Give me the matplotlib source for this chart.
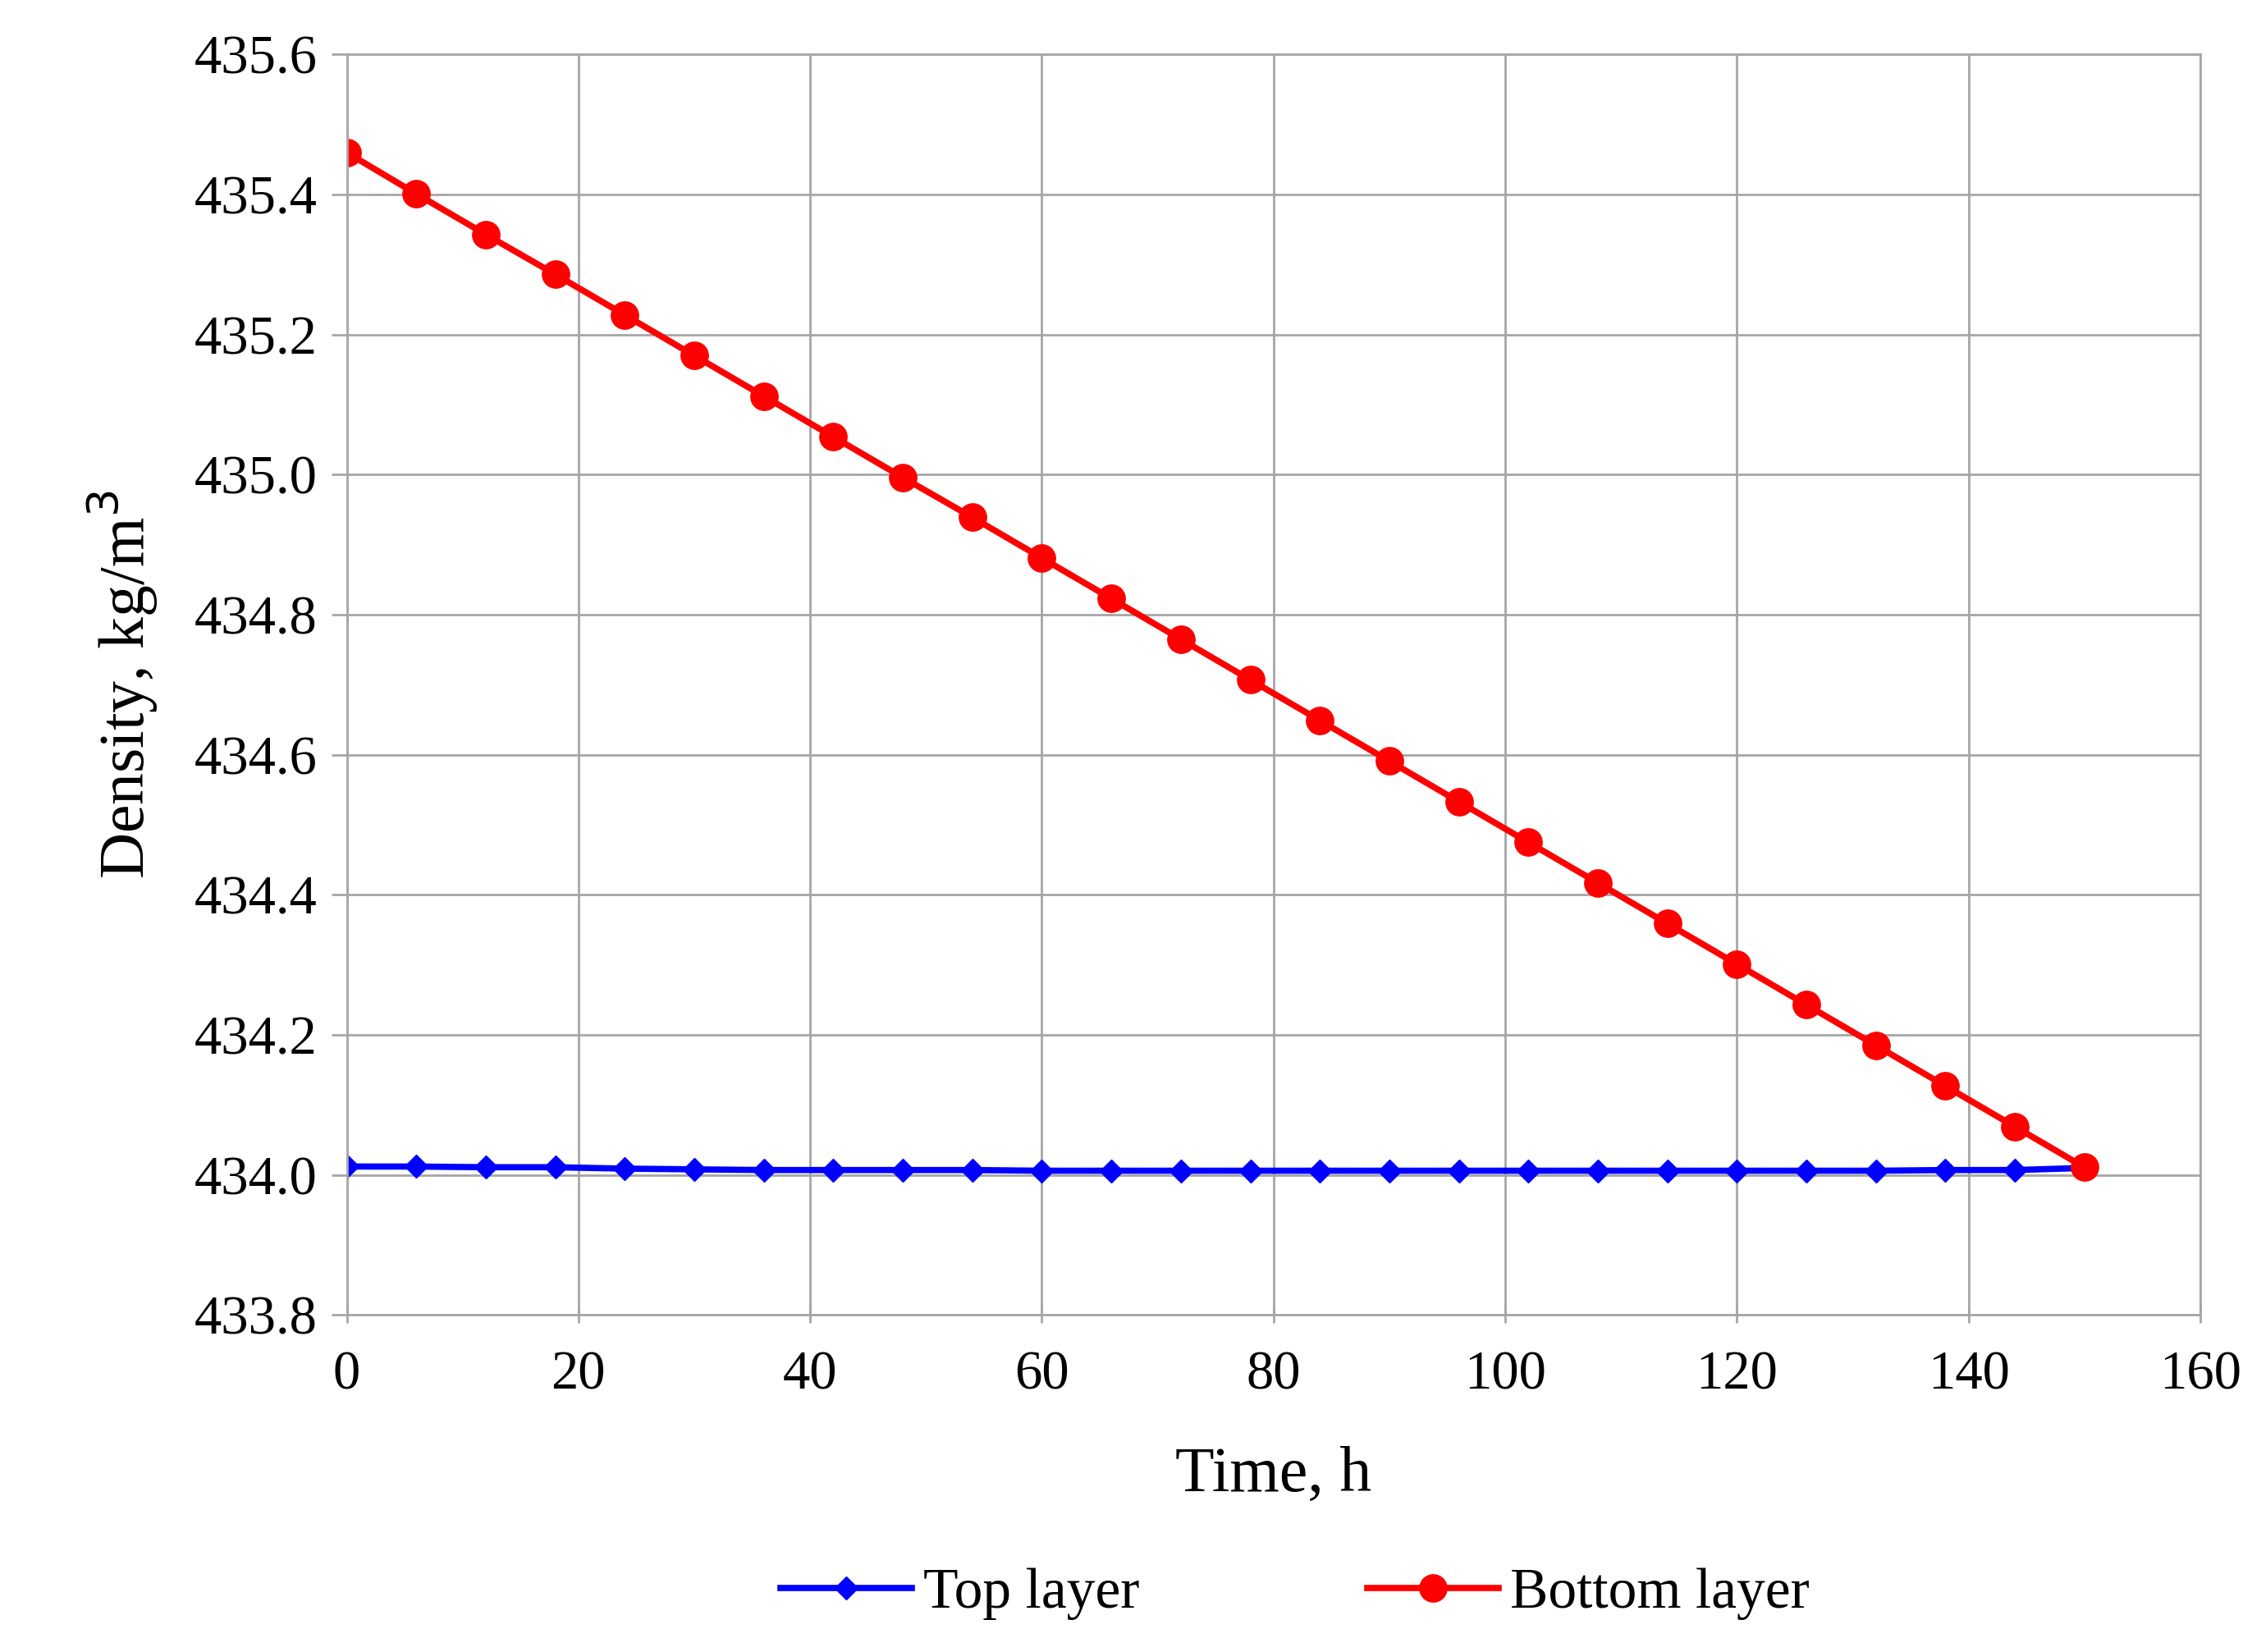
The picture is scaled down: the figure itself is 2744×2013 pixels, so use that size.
import matplotlib.pyplot as plt
import numpy as np

# Data
time_h = [0, 6, 12, 18, 24, 30, 36, 42, 48, 54, 60, 66, 72, 78, 84, 90, 96,
          102, 108, 114, 120, 126, 132, 138, 144, 150]
top_layer = [434.012, 434.012, 434.011, 434.011, 434.009, 434.008, 434.007,
             434.007, 434.007, 434.007, 434.006, 434.006, 434.006, 434.006,
             434.006, 434.006, 434.006, 434.006, 434.006, 434.006, 434.006,
             434.006, 434.006, 434.007, 434.007, 434.010]
bottom_layer = [435.460, 435.401, 435.343, 435.286, 435.228, 435.170, 435.112,
                435.054, 434.996, 434.939, 434.881, 434.823, 434.765, 434.707,
                434.649, 434.591, 434.533, 434.475, 434.417, 434.359, 434.301,
                434.243, 434.185, 434.127, 434.069, 434.011]

plt.rcParams['font.family'] = ['Liberation Serif', 'DejaVu Serif']

fig = plt.figure(figsize=(27.44, 20.13), dpi=100)
ax = fig.add_axes([0.154, 0.204, 0.823, 0.763])

ax.plot(time_h, top_layer, color='#0000FF', lw=5.5, marker='D', ms=14,
        label='Top layer')
ax.plot(time_h, bottom_layer, color='#FF0000', lw=5.5, marker='o', ms=24,
        label='Bottom layer')

ax.set_xlim(0, 160)
ax.set_ylim(433.8, 435.6)
ax.set_xticks(np.arange(0, 161, 20))
ax.set_yticks(np.arange(433.8, 435.61, 0.2))
ax.set_yticklabels([f'{v:.1f}' for v in np.arange(433.8, 435.61, 0.2)])
ax.grid(True, color='#a6a6a6', lw=2)
for s in ax.spines.values():
    s.set_color('#a6a6a6')
    s.set_linewidth(2)
ax.tick_params(labelsize=48, length=14, width=2, color='#a6a6a6', pad=12)
ax.tick_params(axis='x', direction='inout', pad=24)
ax.set_xlabel('Time, h', fontsize=56, labelpad=40)
ax.set_ylabel('Density, kg/m$^3$', fontsize=56, labelpad=30)

fig.legend(loc='center', bbox_to_anchor=(0.575, 0.035), ncol=2, frameon=False,
           fontsize=50, handlelength=2.3, handletextpad=0.2, columnspacing=4)

fig.savefig('out.png', dpi=100)
